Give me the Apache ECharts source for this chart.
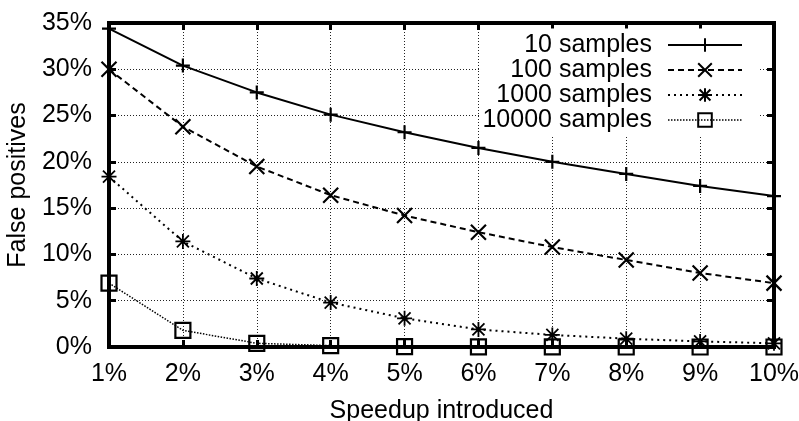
<!DOCTYPE html>
<html>
<head>
<meta charset="utf-8">
<script src="https://cdn.jsdelivr.net/npm/echarts@6/dist/echarts.min.js"></script>
<style>
html,body{margin:0;padding:0;background:#fff;}
#chart{width:799px;height:421px;}
</style>
</head>
<body>
<div id="chart"></div>
<script>
// Data
var speedups = [1, 2, 3, 4, 5, 6, 7, 8, 9, 10];
var seriesNames = ['10 samples', '100 samples', '1000 samples', '10000 samples'];
var s10 = [34.4, 30.4, 27.5, 25.1, 23.2, 21.5, 20.0, 18.7, 17.4, 16.3];
var s100 = [30.0, 23.8, 19.5, 16.4, 14.2, 12.4, 10.8, 9.4, 8.0, 6.9];
var s1000 = [18.4, 11.4, 7.4, 4.8, 3.1, 1.9, 1.3, 0.9, 0.6, 0.4];
var s10000 = [6.9, 1.8, 0.4, 0.15, 0.05, 0.02, 0.01, 0.0, 0.0, 0.0];
var xTicks = [1, 10, 1];   // min, max, interval (%)
var yTicks = [0, 35, 5];   // min, max, interval (%)

var FONT = 'Liberation Sans';
var FS = 25;

function pairs(vals) {
  return vals.map(function (v, i) { return [speedups[i], v]; });
}

var symPlus = 'path://M5 0 L5 10 M0 5 L10 5';
var symX = 'path://M0 0 L10 10 M10 0 L0 10';
var symStar = 'path://M5 0 L5 10 M0 5 L10 5 M1 1 L9 9 M9 1 L1 9';
var symSquare = 'path://M0 0 L10 0 L10 10 L0 10 Z';

var styles = [
  { sym: symPlus, size: 14, dash: 'solid', width: 2, bw: 2.2 },
  { sym: symX, size: 15, dash: [6, 4], width: 2, bw: 2.2 },
  { sym: symStar, size: 15, dash: [2, 4], width: 2, bw: 1.8 },
  { sym: symSquare, size: 15, dash: [1.5, 1.5], width: 1.5, bw: 2.2 }
];
var values = [s10, s100, s1000, s10000];

var series = values.map(function (vals, k) {
  var st = styles[k];
  return {
    name: seriesNames[k],
    type: 'line',
    data: pairs(vals),
    xAxisIndex: 0,
    yAxisIndex: 0,
    symbol: st.sym,
    symbolSize: st.size,
    showAllSymbol: true,
    smooth: false,
    animation: false,
    lineStyle: { color: '#000', width: st.width, type: st.dash },
    itemStyle: { color: 'transparent', borderColor: '#000', borderWidth: st.bw },
    emphasis: { disabled: true }
  };
});

var gridLine = { show: true, lineStyle: { color: '#222', width: 1, type: [1, 2] } };
var tickIn = { show: true, inside: true, length: 7, lineStyle: { color: '#000', width: 3 } };
var frameLine = { show: true, onZero: false, lineStyle: { color: '#000', width: 4 } };

var option = {
  animation: false,
  backgroundColor: '#fff',
  textStyle: { fontFamily: FONT, color: '#000' },
  grid: {
    left: 109, right: 25, top: 23, bottom: 74,
    containLabel: false,
    outerBoundsMode: 'none',
    show: true, borderColor: '#000', borderWidth: 4, backgroundColor: 'transparent'
  },
  legend: {
    data: seriesNames,
    orient: 'vertical',
    align: 'right',
    right: 39,
    top: 28.5,
    padding: [4, 17, 4, 2],
    itemGap: 0,
    itemWidth: 74,
    itemHeight: 17,
    backgroundColor: '#fff',
    selectedMode: false,
    textStyle: { fontFamily: FONT, fontSize: FS, color: '#000', lineHeight: 24.7, padding: [0, 11, 0, 0] },
    itemStyle: { color: 'transparent', borderColor: '#000', borderWidth: 2 },
    lineStyle: { color: '#000', type: 'inherit', width: 'inherit' }
  },
  xAxis: [
    {
      type: 'value', position: 'bottom',
      min: xTicks[0], max: xTicks[1], interval: xTicks[2],
      name: 'Speedup introduced', nameLocation: 'middle', nameGap: 52,
      nameTextStyle: { fontFamily: FONT, fontSize: FS, color: '#000' },
      axisLine: frameLine,
      axisTick: tickIn,
      axisLabel: { formatter: '{value}%', fontFamily: FONT, fontSize: FS, color: '#000', margin: 15 },
      splitLine: gridLine
    },
    {
      type: 'value', position: 'top',
      min: xTicks[0], max: xTicks[1], interval: xTicks[2],
      axisLine: frameLine,
      axisTick: tickIn,
      axisLabel: { show: false },
      splitLine: { show: false }
    }
  ],
  yAxis: [
    {
      type: 'value', position: 'left',
      min: yTicks[0], max: yTicks[1], interval: yTicks[2],
      name: 'False positives', nameLocation: 'middle', nameGap: 66,
      nameTextStyle: { fontFamily: FONT, fontSize: FS, color: '#000' },
      axisLine: frameLine,
      axisTick: tickIn,
      axisLabel: { formatter: '{value}%', fontFamily: FONT, fontSize: FS, color: '#000', margin: 17 },
      splitLine: gridLine
    },
    {
      type: 'value', position: 'right',
      min: yTicks[0], max: yTicks[1], interval: yTicks[2],
      axisLine: frameLine,
      axisTick: tickIn,
      axisLabel: { show: false },
      splitLine: { show: false }
    }
  ],
  series: series
};

var chart = echarts.init(document.getElementById('chart'), null, { renderer: 'canvas' });
chart.setOption(option);
</script>
</body>
</html>
